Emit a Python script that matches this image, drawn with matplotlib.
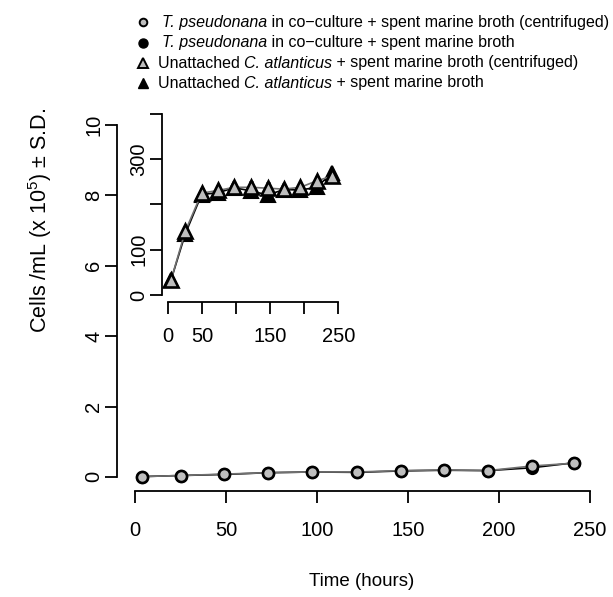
import matplotlib
matplotlib.use("Agg")
import matplotlib.pyplot as plt
from matplotlib.lines import Line2D

plt.rcParams['font.family'] = ['Liberation Sans', 'DejaVu Sans']
plt.rcParams['mathtext.fontset'] = 'custom'
plt.rcParams['mathtext.rm'] = 'Liberation Sans'
plt.rcParams['mathtext.it'] = 'Liberation Sans:italic'
plt.rcParams['mathtext.bf'] = 'Liberation Sans:bold'

# ---- data ----
hours = [4, 25, 49, 73, 97, 122, 146, 170, 194, 218, 241]
tp_cent = [0.01, 0.04, 0.08, 0.12, 0.14, 0.14, 0.18, 0.20, 0.18, 0.31, 0.39]
tp_cent_sd = [0.01, 0.01, 0.01, 0.02, 0.02, 0.02, 0.02, 0.02, 0.02, 0.03, 0.06]
tp_spent = [0.01, 0.04, 0.07, 0.12, 0.14, 0.13, 0.17, 0.19, 0.18, 0.26, 0.40]
tp_spent_sd = [0.01, 0.01, 0.01, 0.02, 0.02, 0.02, 0.02, 0.02, 0.02, 0.03, 0.06]
ca_cent = [33, 141, 225, 231, 238, 238, 236, 234, 238, 252, 263]
ca_cent_sd = [3, 10, 10, 10, 8, 12, 12, 8, 6, 8, 8]
ca_spent = [33, 135, 222, 226, 237, 230, 221, 233, 232, 238, 270]
ca_spent_sd = [3, 10, 8, 8, 8, 10, 10, 8, 6, 8, 8]

# legend rows: (plain prefix, italic part, plain suffix)
legend_parts = [
    ("", "T. pseudonana", " in co\u2212culture + spent marine broth (centrifuged)"),
    ("", "T. pseudonana", " in co\u2212culture + spent marine broth"),
    ("Unattached ", "C. atlanticus", " + spent marine broth (centrifuged)"),
    ("Unattached ", "C. atlanticus", " + spent marine broth"),
]

main_yticks = [0, 2, 4, 6, 8, 10]
main_xticks = [0, 50, 100, 150, 200, 250]
inset_yticks = [0, 100, 200, 300, 400]
inset_yticklabels = ["0", "100", "", "300", ""]
inset_xticks = [0, 50, 100, 150, 200, 250]
inset_xticklabels = ["0", "50", "", "150", "", "250"]

W, H = 613, 597
fig = plt.figure(figsize=(W / 100, H / 100), dpi=100)

GREY = "#bebebe"
TICKLEN = 8.6
FS = 14.5


def style_axes(ax, xb, yb, xpad):
    for s in ["top", "right"]:
        ax.spines[s].set_visible(False)
    ax.spines["left"].set_bounds(*yb)
    ax.spines["bottom"].set_bounds(*xb)
    for s in ["left", "bottom"]:
        ax.spines[s].set_linewidth(1.3)
    ax.tick_params(length=TICKLEN, width=1.3, labelsize=FS)
    ax.tick_params(axis="x", pad=xpad)
    ax.tick_params(axis="y", pad=1)
    ax.patch.set_alpha(0)


def px_axes(l, t, r, b):
    return fig.add_axes([l / W, 1 - b / H, (r - l) / W, (b - t) / H])


# ---- main axes ----
ax = px_axes(116.8, 111, 608.2, 491)
ax.set_xlim(-10, 260)
ax.set_ylim(-0.4, 10.4)
style_axes(ax, (0, 250), (0, 10), 13)
ax.set_xticks(main_xticks)
ax.set_yticks(main_yticks)
for lab in ax.get_yticklabels():
    lab.set_rotation(90)
    lab.set_va("center")

ax.errorbar(hours, tp_spent, yerr=tp_spent_sd, color="black", lw=1.2,
            marker="o", ms=8, mfc="black", mec="black", mew=1.5,
            ecolor="black", elinewidth=1.2, capsize=1.5, zorder=3)
ax.errorbar(hours, tp_cent, yerr=tp_cent_sd, color="#707070", lw=1.2,
            marker="o", ms=8, mfc=GREY, mec="black", mew=1.9,
            ecolor="black", elinewidth=1.2, capsize=1.5, zorder=4)

fig.text(362 / W, 1 - 582 / H, "Time (hours)", ha="center", va="center",
         fontsize=13.5)
fig.text(40 / W, 1 - 220 / H, r"Cells /mL (x 10$^{5}$) $\pm$ S.D.",
         rotation=90, ha="center", va="center", fontsize=15.5)

# ---- inset ----
ai = px_axes(161.5, 106.8, 345.1, 302.2)
ai.set_xlim(-10, 260)
ai.set_ylim(-16, 416)
style_axes(ai, (0, 250), (0, 400), 9)
ai.set_xticks(inset_xticks)
ai.set_xticklabels(inset_xticklabels)
ai.set_yticks(inset_yticks)
ai.set_yticklabels(inset_yticklabels)
for lab in ai.get_yticklabels():
    lab.set_rotation(90)
    lab.set_va("center")

ai.errorbar(hours, ca_spent, yerr=ca_spent_sd, color="black", lw=1.2,
            marker="^", ms=9.5, mfc="black", mec="black", mew=1.5,
            ecolor="black", elinewidth=1.2, capsize=1.5, zorder=3)
ai.errorbar(hours, ca_cent, yerr=ca_cent_sd, color="#707070", lw=1.2,
            marker="^", ms=9.5, mfc=GREY, mec="black", mew=1.9,
            ecolor="black", elinewidth=1.2, capsize=1.5, zorder=4)

# ---- legend ----
rows_y = [22, 43, 63, 83]
marker_specs = [
    dict(marker="o", ms=5.5, mfc=GREY, mec="black", mew=1.4),
    dict(marker="o", ms=6.5, mfc="black", mec="black", mew=1.0),
    dict(marker="^", ms=7.5, mfc=GREY, mec="black", mew=1.4),
    dict(marker="^", ms=7.5, mfc="black", mec="black", mew=1.0),
]
text_x = [162, 162, 158, 158]
LFS = 11.5
renderer = fig.canvas.get_renderer()
for y, spec, parts, tx in zip(rows_y, marker_specs, legend_parts, text_x):
    fig.add_artist(Line2D([143 / W], [1 - y / H], linestyle="none",
                          transform=fig.transFigure, **spec))
    x = tx
    for i, part in enumerate(parts):
        if not part:
            continue
        t = fig.text(x / W, 1 - y / H, part, ha="left", va="center",
                     fontsize=LFS, fontstyle="italic" if i == 1 else "normal")
        bb = t.get_window_extent(renderer=renderer)
        if part.endswith(" "):
            t2 = fig.text(0, 0, part + "|", fontsize=LFS)
            t3 = fig.text(0, 0, "|", fontsize=LFS)
            w = t2.get_window_extent(renderer=renderer).width - \
                t3.get_window_extent(renderer=renderer).width
            t2.remove(); t3.remove()
        else:
            w = bb.width
        x += w

fig.savefig("out.png", dpi=100)
